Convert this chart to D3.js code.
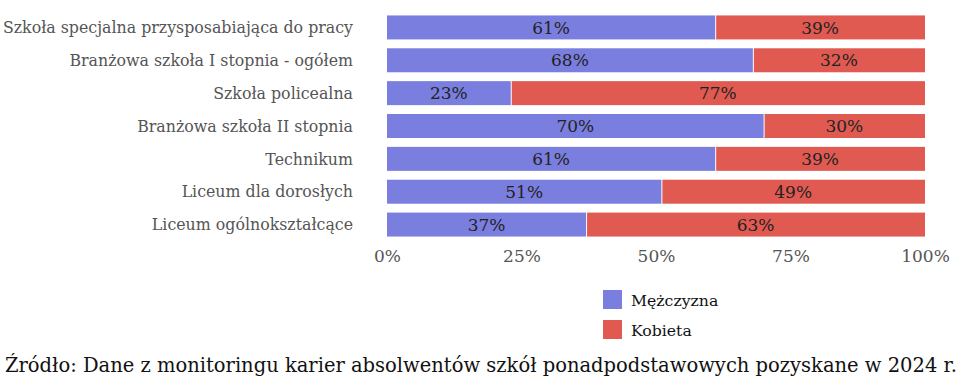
<!DOCTYPE html>
<html>
<head>
<meta charset="utf-8">
<script src="https://cdn.jsdelivr.net/npm/d3@7"></script>
<style>
body { margin: 0; background: #fff; }
svg text { font-family: "DejaVu Serif", serif; }
</style>
</head>
<body>
<div id="chart"></div>
<script>
var categories = [
    "Szkoła specjalna przysposabiająca do pracy",
    "Branżowa szkoła I stopnia - ogółem",
    "Szkoła policealna",
    "Branżowa szkoła II stopnia",
    "Technikum",
    "Liceum dla dorosłych",
    "Liceum ogólnokształcące"
];
var men = [61, 68, 23, 70, 61, 51, 37];
var women = [39, 32, 77, 30, 39, 49, 63];
var seriesNames = ["Mężczyzna", "Kobieta"];
var ticks = [0, 25, 50, 75, 100];
var source = "Źródło: Dane z monitoringu karier absolwentów szkół ponadpodstawowych pozyskane w 2024 r.";

var svgWidth = 960;
var svgHeight = 384;
var colors = ["#7a7ede", "#e05a52"];

var svg = d3.select("#chart")
    .append("svg")
    .attr("width", svgWidth)
    .attr("height", svgHeight);

var x = d3.scaleLinear().domain([0, 100]).range([387, 925]);
var y = d3.scaleBand().domain(categories).range([11, 241]).paddingInner(0.27).paddingOuter(0.135);

var rows = categories.map(function(c, i) {
    return { cat: c, vals: [men[i], women[i]] };
});

var row = svg.selectAll(".row")
    .data(rows)
    .enter().append("g")
    .attr("class", "row");

row.each(function(d) {
    var g = d3.select(this);
    var start = 0;
    d.vals.forEach(function(v, j) {
        g.append("rect")
            .attr("x", x(start) + (j > 0 ? 1 : 0))
            .attr("y", y(d.cat))
            .attr("width", x(start + v) - x(start) - (j > 0 ? 1 : 0))
            .attr("height", y.bandwidth())
            .attr("fill", colors[j]);
        g.append("text")
            .attr("x", (x(start) + x(start + v)) / 2)
            .attr("y", y(d.cat) + y.bandwidth() / 2)
            .attr("dy", "0.36em")
            .attr("text-anchor", "middle")
            .attr("font-size", 17)
            .attr("fill", "#222")
            .text(v + "%");
        start += v;
    });
});

svg.selectAll(".cat")
    .data(categories)
    .enter().append("text")
    .attr("class", "cat")
    .attr("x", 353)
    .attr("y", d => y(d) + y.bandwidth() / 2)
    .attr("dy", "0.36em")
    .attr("text-anchor", "end")
    .attr("font-size", 15.8)
    .attr("fill", "#555")
    .text(d => d);

var xAxis = svg.append("g")
    .attr("transform", "translate(0,246)")
    .call(d3.axisBottom(x).tickValues(ticks).tickFormat(d => d + "%").tickSize(0).tickPadding(4));
xAxis.select(".domain").remove();
xAxis.selectAll("text")
    .attr("font-family", "DejaVu Serif, serif")
    .attr("font-size", 17)
    .attr("fill", "#555");

var legend = svg.selectAll(".legend")
    .data(seriesNames)
    .enter().append("g")
    .attr("class", "legend")
    .attr("transform", (d, i) => `translate(603, ${290 + i * 30})`);
legend.append("rect")
    .attr("width", 19)
    .attr("height", 19)
    .attr("fill", (d, i) => colors[i]);
legend.append("text")
    .attr("x", 28)
    .attr("y", 10)
    .attr("dy", "0.36em")
    .attr("font-size", 15.7)
    .attr("fill", "#111")
    .text(d => d);

svg.append("text")
    .attr("x", 5)
    .attr("y", 372)
    .attr("font-size", 19.5)
    .attr("fill", "#111")
    .text(source);
</script>
</body>
</html>
